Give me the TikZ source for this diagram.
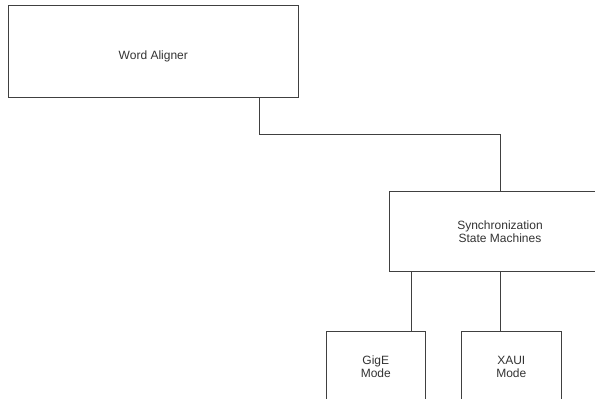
\documentclass[tikz,border=0pt]{standalone}
\usepackage{fontspec}
\setmainfont{Liberation Sans}
\usepackage{tikz}
\usetikzlibrary{positioning}

\begin{document}
\begin{tikzpicture}
          [x=1pt,y=-1pt,
            every node/.style={rectangle,draw=black!75,line width=0.9pt,inner sep=0pt,align=center,
              text=black!80,font=\fontsize{12}{13.4}\selectfont},
            link/.style={draw=black!75,line width=0.9pt},
          ]

          \useasboundingbox (0,0) rectangle (595,399);
          \clip (0,0) rectangle (595,399);

          \node (aligner) [minimum width=290pt,minimum height=91.6pt,text height=17pt,text depth=2pt] at (153.3,51.5) {Word Aligner};
          \node (sync) [minimum width=222pt,minimum height=80pt] at (500,231.7) {Synchronization\\State Machines};
          \node (gige) [minimum width=99.7pt,minimum height=70pt] at (375.8,366.7) {GigE\\Mode};
          \node (xaui) [minimum width=99.3pt,minimum height=70pt] at (511.3,366.7) {XAUI\\Mode};

          \draw[link] ([xshift=106.4pt]aligner.south) -- ++(0,36.9) -| (sync.north);
          \draw[link] ([xshift=-88.3pt]sync.south) -- ([xshift=-88.3pt]sync.south |- gige.north);
          \draw[link] (sync.south) -- (sync.south |- xaui.north);
        \end{tikzpicture}
\end{document}
